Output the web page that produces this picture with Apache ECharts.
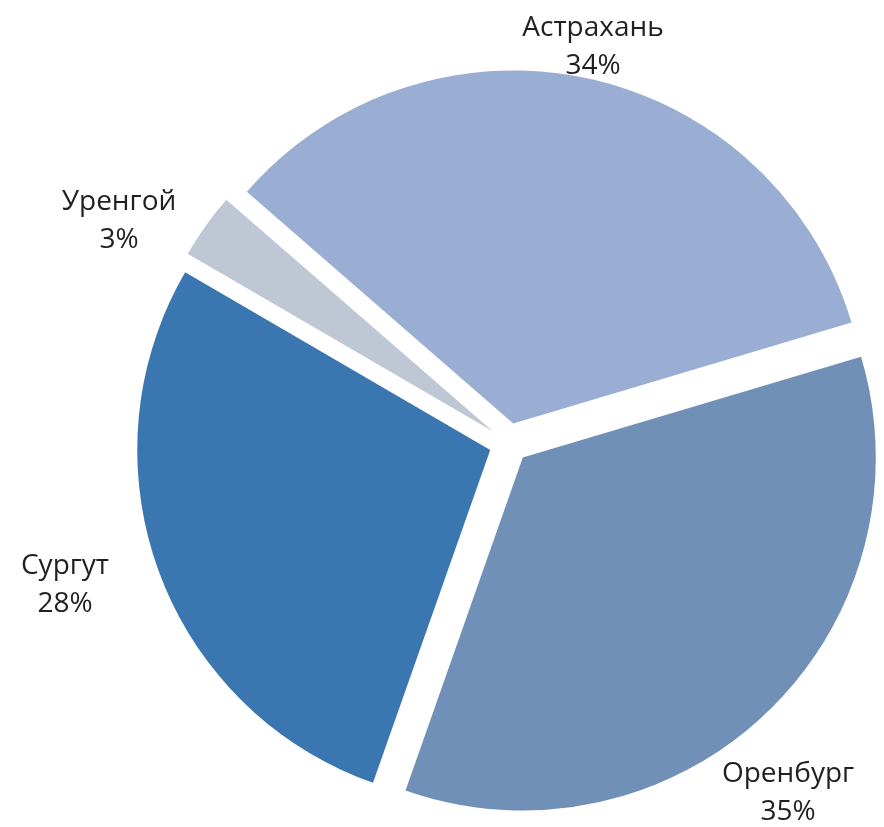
<!DOCTYPE html>
<html>
<head>
<meta charset="utf-8">
<script src="https://cdn.jsdelivr.net/npm/echarts@6/dist/echarts.min.js"></script>
<style>
  html, body { margin: 0; padding: 0; background: #fff; }
  #main { width: 884px; height: 827px; }
</style>
</head>
<body>
<div id="main"></div>
<script>
// data
var regions = ['Астрахань', 'Оренбург', 'Сургут', 'Уренгой'];
var shares = [34, 35, 28, 3];

var colors = ['#9aadd3', '#7190b8', '#3a76af', '#bec7d3'];
// label centres (px) as placed in the original
var labelPos = [[593, 47], [788, 793], [65, 585], [119, 221]];

var cx = 509, cy = 443, radius = 353;
var startAngle = 139;
var explode = 20;

var chartDom = document.getElementById('main');
var myChart = echarts.init(chartDom);
var option;

var total = shares.reduce(function (a, b) { return a + b; }, 0);

// one pie per slice so every slice can be pulled out along its own bisector
var series = [];
var before = 0;
shares.forEach(function (v, k) {
  var mid = (startAngle - 360 * (before + v / 2) / total) * Math.PI / 180;
  before += v;
  series.push({
    type: 'pie',
    center: [cx + explode * Math.cos(mid), cy - explode * Math.sin(mid)],
    radius: radius,
    startAngle: startAngle,
    clockwise: true,
    silent: true,
    emphasis: { disabled: true },
    data: regions.map(function (name, i) {
      return {
        name: name,
        value: shares[i],
        itemStyle: { color: i === k ? colors[i] : 'rgba(0,0,0,0)' },
        label: { show: i === k }
      };
    }),
    label: {
      position: 'outside',
      overflow: 'none',
      formatter: function (p) {
        return p.name + '\n' + Math.round(p.percent) + '%';
      },
      fontFamily: 'Open Sans',
      fontSize: 28,
      lineHeight: 38,
      color: '#231f20'
    },
    labelLine: { show: false },
    labelLayout: function (p) {
      var pos = labelPos[p.dataIndex];
      return {
        x: pos[0],
        y: pos[1],
        align: 'center',
        verticalAlign: 'middle'
      };
    }
  });
});

option = {
  animation: false,
  series: series
};

option && myChart.setOption(option);
</script>
</body>
</html>
